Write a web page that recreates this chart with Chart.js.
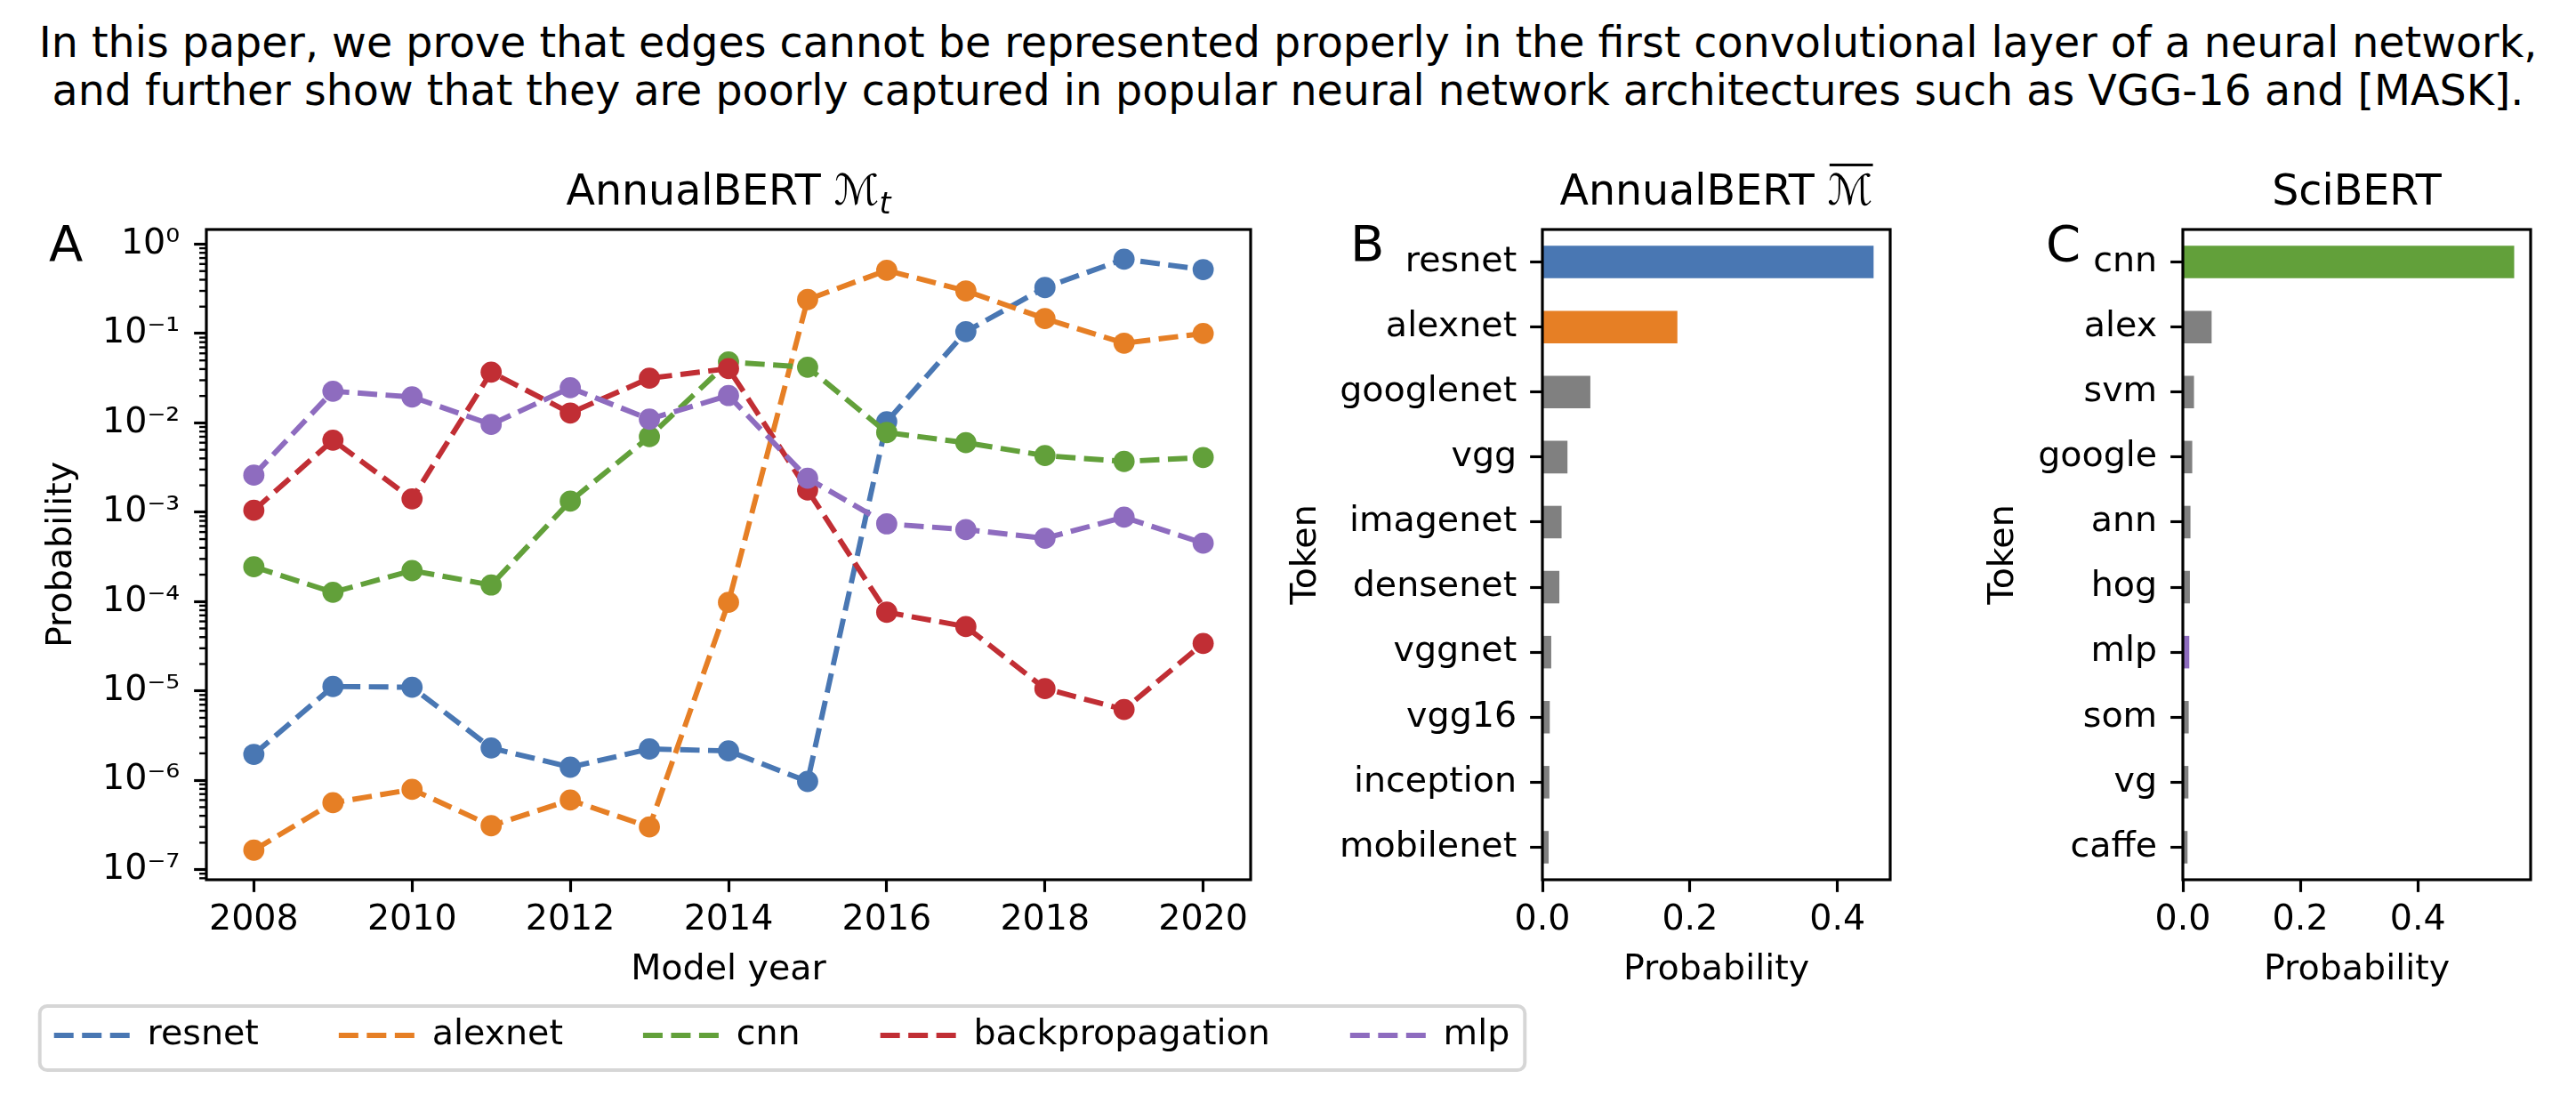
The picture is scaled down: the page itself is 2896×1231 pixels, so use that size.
<!DOCTYPE html>
<html>
<head>
<meta charset="utf-8">
<script src="https://cdn.jsdelivr.net/npm/chart.js@4.4.1/dist/chart.umd.min.js"></script>
<style>
  html, body { margin: 0; padding: 0; background: #fff; }
  body { width: 2896px; height: 1231px; position: relative; overflow: hidden; }
  canvas { position: absolute; top: 0; }
  #caption { position: absolute; left: 0; top: 21px; width: 2896px; text-align: center;
             font-family: 'DejaVu Sans', sans-serif; font-size: 47.5px; line-height: 54px; color: #000; white-space: nowrap; }
</style>
</head>
<body>
<div id="caption">In this paper, we prove that edges cannot be represented properly in the first convolutional layer of a neural network,<br>and further show that they are poorly captured in popular neural network architectures such as VGG-16 and [MASK].</div>
<canvas id="cA" width="1900" height="1231" style="left:-71px"></canvas>
<canvas id="cB" width="760" height="1231" style="left:1420px"></canvas>
<canvas id="cC" width="756" height="1231" style="left:2140px"></canvas>
<script>
// ---------------- data ----------------
const years = [2008, 2009, 2010, 2011, 2012, 2013, 2014, 2015, 2016, 2017, 2018, 2019, 2020];
const resnet   = [1.95e-6, 1.12e-5, 1.10e-5, 2.3e-6, 1.4e-6, 2.24e-6, 2.13e-6, 9.7e-7, 0.0103, 0.105, 0.327, 0.68, 0.52];
const alexnet  = [1.65e-7, 5.6e-7, 7.9e-7, 3.1e-7, 6.0e-7, 3.0e-7, 9.8e-5, 0.24, 0.51, 0.30, 0.147, 0.078, 0.10];
const cnn      = [2.45e-4, 1.27e-4, 2.22e-4, 1.53e-4, 1.33e-3, 7.0e-3, 0.048, 0.042, 7.8e-3, 6.0e-3, 4.3e-3, 3.7e-3, 4.1e-3];
const backprop = [1.05e-3, 6.4e-3, 1.41e-3, 0.037, 0.0129, 0.0316, 0.0405, 1.77e-3, 7.6e-5, 5.25e-5, 1.06e-5, 6.2e-6, 3.4e-5];
const mlp      = [2.6e-3, 0.0226, 0.0195, 9.6e-3, 0.0247, 0.011, 0.0202, 2.4e-3, 7.4e-4, 6.4e-4, 5.1e-4, 8.8e-4, 4.5e-4];
const seriesNames = ['resnet', 'alexnet', 'cnn', 'backpropagation', 'mlp'];
const seriesValues = [resnet, alexnet, cnn, backprop, mlp];

const xTickValues = [2008, 2010, 2012, 2014, 2016, 2018, 2020];
const xTickLabels = ['2008', '2010', '2012', '2014', '2016', '2018', '2020'];
const yTickValues = [1e-7, 1e-6, 1e-5, 1e-4, 1e-3, 1e-2, 1e-1, 1];
const yTickLabels = ['10\u207B\u2077', '10\u207B\u2076', '10\u207B\u2075', '10\u207B\u2074', '10\u207B\u00B3', '10\u207B\u00B2', '10\u207B\u00B9', '10\u2070'];
const yMinorMultipliers = [2, 3, 4, 5, 6, 7, 8, 9];
const yMin = 7.7e-8, yMax = 1.46;
const xMin = 2007.4, xMax = 2020.6;

const tokensB = ['resnet', 'alexnet', 'googlenet', 'vgg', 'imagenet', 'densenet', 'vggnet', 'vgg16', 'inception', 'mobilenet'];
const probsB  = [0.449, 0.183, 0.065, 0.034, 0.026, 0.023, 0.012, 0.010, 0.0095, 0.0085];
const tokensC = ['cnn', 'alex', 'svm', 'google', 'ann', 'hog', 'mlp', 'som', 'vg', 'caffe'];
const probsC  = [0.564, 0.049, 0.019, 0.016, 0.013, 0.012, 0.011, 0.010, 0.0095, 0.008];
const barTickValues = [0, 0.2, 0.4];
const barTickLabels = ['0.0', '0.2', '0.4'];
const xMaxB = 0.4715, xMaxC = 0.592;

// ---------------- styles ----------------
const colors = { resnet: '#4977b3', alexnet: '#e67f25', cnn: '#62a03a', backpropagation: '#c12e34', mlp: '#8e6cbf' };
const GRAY = '#808080';
const FS = 39.6, TFS = 47.5, LFS = 56;
const AX_LW = 3.17, TICK_LEN = 13.85, TICK_W = 3.17, MINOR_LEN = 7.9, MINOR_W = 2.375;
const LINE_W = 5.94, DASH = [22, 9.5];
const FONT = 'DejaVu Sans';

Chart.defaults.font.family = FONT;
Chart.defaults.color = '#000';
Chart.defaults.animation = false;

// ---------------- plugins ----------------
function framePlugin() {
  return {
    id: 'frame',
    afterDatasetsDraw(chart) {
      const { ctx, chartArea: a } = chart;
      ctx.save();
      ctx.strokeStyle = '#000';
      ctx.lineWidth = AX_LW;
      ctx.strokeRect(a.left, a.top, a.right - a.left, a.bottom - a.top);
      ctx.restore();
    }
  };
}
function titlePlugin(spec) {
  return {
    id: 'richTitle',
    afterDraw(chart) {
      const { ctx, chartArea: a } = chart;
      ctx.save();
      ctx.fillStyle = '#000';
      ctx.textBaseline = 'alphabetic';
      ctx.textAlign = 'left';
      const fonts = spec.parts.map(p => (p.italic ? 'italic ' : '') + (p.sub ? TFS * 0.7 : TFS) + 'px "' + FONT + '"');
      const widths = spec.parts.map((p, i) => { ctx.font = fonts[i]; return ctx.measureText(p.text).width; });
      const total = widths.reduce((s, w) => s + w, 0);
      let x = (a.left + a.right) / 2 - total / 2;
      const y = a.top - 28;
      spec.parts.forEach((p, i) => {
        ctx.font = fonts[i];
        ctx.fillText(p.text, x, p.sub ? y + TFS * 0.2 : y);
        if (p.overline) ctx.fillRect(x + 2, y - TFS * 0.97, widths[i] - 2, 3);
        x += widths[i];
      });
      ctx.font = LFS + 'px "' + FONT + '"';
      ctx.fillText(spec.letter, spec.letterX, 293);
      ctx.restore();
    }
  };
}
function minorLogTicks() {
  return {
    id: 'minorLog',
    afterDraw(chart) {
      const { ctx, chartArea: a } = chart;
      const s = chart.scales.y;
      ctx.save();
      ctx.strokeStyle = '#000';
      ctx.lineWidth = MINOR_W;
      yTickValues.concat([1e-8]).forEach(dec => {
        yMinorMultipliers.forEach(m => {
          const v = dec * m;
          if (v < yMin || v > yMax) return;
          const py = s.getPixelForValue(v);
          ctx.beginPath();
          ctx.moveTo(a.left - MINOR_LEN, py);
          ctx.lineTo(a.left, py);
          ctx.stroke();
        });
      });
      ctx.restore();
    }
  };
}
function legendFrame() {
  return {
    id: 'legendFrame',
    afterDraw(chart) {
      const hb = chart.legend.legendHitBoxes;
      if (!hb || !hb.length) return;
      const last = hb[hb.length - 1];
      const l = hb[0].left - 16, r = last.left + last.width + 17;
      const cy = hb[0].top + hb[0].height / 2 + 3;
      const ctx = chart.ctx;
      ctx.save();
      ctx.strokeStyle = 'rgba(204,204,204,0.8)';
      ctx.lineWidth = 3.96;
      ctx.beginPath();
      ctx.roundRect(l, cy - 36, r - l, 72, 8.3);
      ctx.stroke();
      ctx.restore();
    }
  };
}

const tickGrid = { drawOnChartArea: false, drawTicks: true, tickLength: TICK_LEN, tickWidth: TICK_W, tickColor: '#000', offset: false };

// ---------------- chart A ----------------
new Chart(document.getElementById('cA'), {
  type: 'line',
  data: {
    datasets: seriesNames.map((name, i) => ({
      label: name,
      data: years.map((yr, j) => ({ x: yr, y: seriesValues[i][j] })),
      borderColor: colors[name],
      backgroundColor: colors[name],
      pointBackgroundColor: colors[name],
      borderWidth: LINE_W,
      borderDash: DASH,
      borderCapStyle: 'butt',
      pointRadius: 11.9,
      pointBorderWidth: 0,
      pointHoverRadius: 11.9,
      tension: 0,
      fill: false,
      order: seriesNames.length - i,
      yAxisID: 'y'
    }))
  },
  options: {
    responsive: false,
    animation: false,
    events: [],
    layout: { padding: { left: 0, right: 0, top: 258, bottom: 37.2 } },
    plugins: {
      tooltip: { enabled: false },
      title: { display: false },
      legend: {
        display: true,
        position: 'bottom',
        align: 'center',
        labels: {
          usePointStyle: true,
          pointStyle: 'line',
          pointStyleWidth: 85,
          padding: 90,
          color: '#000',
          font: { size: FS, family: FONT },
          generateLabels: chart => chart.data.datasets.map((ds, i) => ({
            text: ds.label,
            fillStyle: ds.borderColor,
            strokeStyle: ds.borderColor,
            lineWidth: LINE_W,
            lineDash: DASH,
            lineDashOffset: 0,
            lineCap: 'butt',
            pointStyle: 'line',
            fontColor: '#000',
            hidden: false,
            datasetIndex: i
          }))
        }
      }
    },
    scales: {
      x: {
        type: 'linear',
        position: 'bottom',
        min: xMin, max: xMax,
        grid: tickGrid,
        border: { display: false },
        afterBuildTicks: s => { s.ticks = xTickValues.map(v => ({ value: v })); },
        afterFit: s => { s.height = 65.2; },
        ticks: { autoSkip: false, maxRotation: 0, padding: 8, font: { size: FS }, callback: (v, i) => xTickLabels[i] },
        title: { display: true, text: 'Model year', font: { size: FS }, padding: { top: 0, bottom: -60.5 } }
      },
      y: {
        type: 'logarithmic',
        position: 'left',
        min: yMin, max: yMax,
        grid: tickGrid,
        border: { display: false },
        afterBuildTicks: s => { s.ticks = yTickValues.map(v => ({ value: v })); },
        afterFit: s => { s.width = 303; },
        ticks: { autoSkip: false, padding: 16, font: { size: FS }, callback: (v, i) => yTickLabels[i] },
        title: { display: true, text: 'Probability', font: { size: FS }, padding: { top: 116.7, bottom: 0 } }
      },
      yR: {
        type: 'linear',
        position: 'right',
        display: true,
        grid: { display: false, drawTicks: false },
        border: { display: false },
        ticks: { display: false },
        afterFit: s => { s.width = 423; }
      }
    }
  },
  plugins: [framePlugin(), minorLogTicks(), legendFrame(),
            titlePlugin({ parts: [{ text: 'AnnualBERT ' }, { text: '\u2133' }, { text: 't', sub: true, italic: true }], letter: 'A', letterX: 126 })]
});

// ---------------- bar charts ----------------
function barChart(id, tokens, probs, highlight, xMaxV, padRight, tokenPad, spec) {
  return new Chart(document.getElementById(id), {
    type: 'bar',
    data: {
      labels: tokens,
      datasets: [{
        data: probs,
        backgroundColor: tokens.map(t => highlight[t] || GRAY),
        borderWidth: 0,
        barPercentage: 0.5,
        categoryPercentage: 1.0
      }]
    },
    options: {
      indexAxis: 'y',
      responsive: false,
      animation: false,
      events: [],
      layout: { padding: { left: 0, right: padRight, top: 258, bottom: 176.8 } },
      plugins: { legend: { display: false }, tooltip: { enabled: false }, title: { display: false } },
      scales: {
        x: {
          type: 'linear',
          position: 'bottom',
          min: 0, max: xMaxV,
          grid: tickGrid,
          border: { display: false },
          afterBuildTicks: s => { s.ticks = barTickValues.map(v => ({ value: v })); },
          afterFit: s => { s.height = 65.2; },
          ticks: { autoSkip: false, maxRotation: 0, padding: 8, font: { size: FS }, callback: (v, i) => barTickLabels[i] },
          title: { display: true, text: 'Probability', font: { size: FS }, padding: { top: 0, bottom: -60.5 } }
        },
        y: {
          type: 'category',
          position: 'left',
          offset: true,
          grid: tickGrid,
          border: { display: false },
          afterFit: s => { s.width = 314; },
          ticks: { autoSkip: false, padding: 15, font: { size: FS } },
          title: { display: true, text: 'Token', font: { size: FS }, padding: { top: tokenPad, bottom: 0 } }
        }
      }
    },
    plugins: [framePlugin(), titlePlugin(spec)]
  });
}

barChart('cB', tokensB, probsB, { resnet: colors.resnet, alexnet: colors.alexnet }, xMaxB, 55, 25.2,
  { parts: [{ text: 'AnnualBERT ' }, { text: '\u2133', overline: true }], letter: 'B', letterX: 98 });
barChart('cC', tokensC, probsC, { cnn: colors.cnn, mlp: colors.mlp }, xMaxC, 51, 89.2,
  { parts: [{ text: 'SciBERT' }], letter: 'C', letterX: 160 });
</script>
</body>
</html>
